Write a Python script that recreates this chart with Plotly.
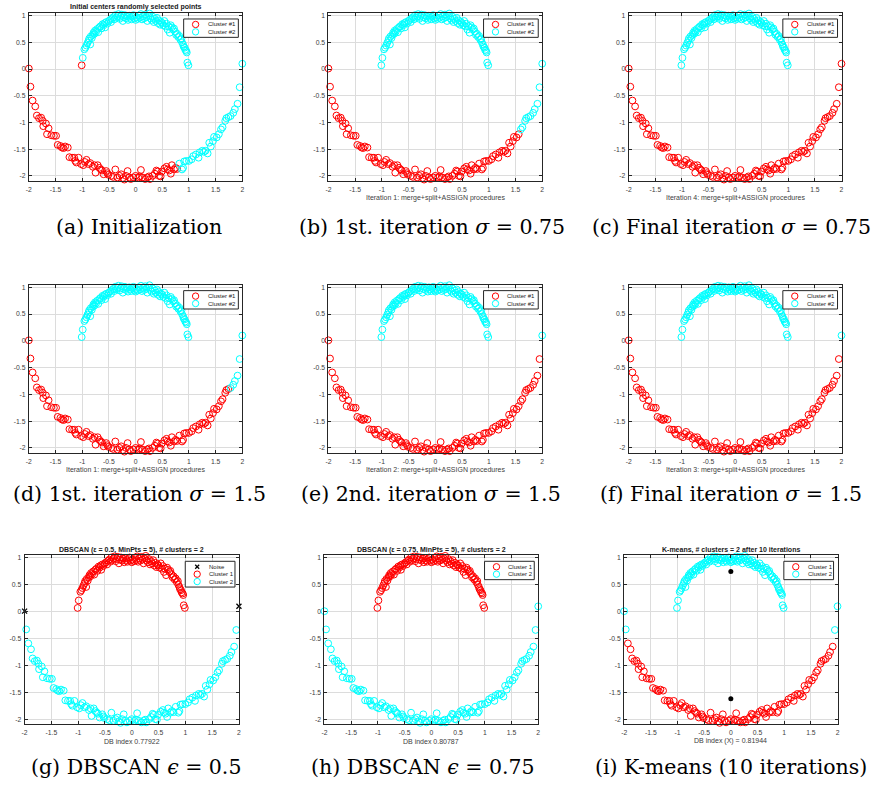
import plotly.graph_objects as go

FIG_W, FIG_H = 879, 787

# ---------------- data ----------------
# upper (inner) arc
UPPER_X = [-1.01, -0.99, -0.96, -0.94, -0.92, -0.90, -0.88, -0.87, -0.85, -0.84,
           -0.82, -0.80, -0.79, -0.77, -0.76, -0.74, -0.72, -0.70, -0.68, -0.66,
           -0.64, -0.62, -0.60, -0.58, -0.57, -0.55, -0.53, -0.50, -0.48, -0.46,
           -0.44, -0.42, -0.40, -0.38, -0.36, -0.34, -0.32, -0.30, -0.28, -0.26,
           -0.24, -0.22, -0.20, -0.18, -0.16, -0.14, -0.12, -0.10, -0.08, -0.06,
           -0.04, -0.02, 0.00, 0.02, 0.04, 0.06, 0.08, 0.10, 0.12, 0.14,
           0.16, 0.18, 0.20, 0.22, 0.24, 0.26, 0.28, 0.30, 0.32, 0.34,
           0.36, 0.38, 0.40, 0.42, 0.44, 0.46, 0.48, 0.50, 0.52, 0.54,
           0.56, 0.58, 0.60, 0.62, 0.64, 0.66, 0.68, 0.70, 0.72, 0.74,
           0.76, 0.78, 0.80, 0.82, 0.84, 0.86, 0.87, 0.89, 0.90, 0.92,
           0.93, 0.95, 0.96, 0.97, 0.99]
UPPER_Y = [0.07, 0.21, 0.37, 0.40, 0.44, 0.49, 0.53, 0.57, 0.46, 0.61,
           0.58, 0.64, 0.68, 0.66, 0.72, 0.70, 0.75, 0.69, 0.78, 0.80,
           0.76, 0.84, 0.82, 0.86, 0.78, 0.88, 0.85, 0.90, 0.92, 0.88,
           0.95, 0.97, 0.93, 1.01, 0.96, 0.99, 1.03, 0.94, 0.98, 1.02,
           0.90, 0.97, 1.01, 0.95, 0.99, 0.92, 1.00, 0.96, 0.93, 0.98,
           1.01, 0.95, 0.92, 0.97, 0.94, 1.00, 0.96, 1.03, 0.93, 0.99,
           0.95, 1.02, 0.97, 0.90, 0.99, 1.04, 0.95, 0.92, 0.98, 0.88,
           0.94, 0.90, 0.96, 0.86, 0.91, 0.83, 0.88, 0.86, 0.82, 0.90,
           0.80, 0.85, 0.74, 0.80, 0.68, 0.82, 0.78, 0.74, 0.76, 0.70,
           0.64, 0.66, 0.60, 0.62, 0.55, 0.57, 0.50, 0.46, 0.42, 0.40,
           0.36, 0.34, 0.31, 0.12, 0.07]

# lower (outer) arc
LOWER_X = [-2.00, -1.97, -1.93, -1.88, -1.85, -1.81, -1.77, -1.74, -1.73, -1.68,
           -1.66, -1.63, -1.58, -1.53, -1.49, -1.46, -1.41, -1.38, -1.35, -1.32,
           -1.27, -1.24, -1.19, -1.15, -1.13, -1.11, -1.07, -1.02, -0.98, -0.95,
           -0.92, -0.88, -0.85, -0.80, -0.77, -0.75, -0.71, -0.68, -0.65, -0.63,
           -0.60, -0.55, -0.53, -0.51, -0.46, -0.42, -0.38, -0.34, -0.30, -0.27,
           -0.24, -0.21, -0.18, -0.15, -0.12, -0.09, -0.04, 0.00, 0.05, 0.08,
           0.10, 0.13, 0.18, 0.22, 0.25, 0.27, 0.32, 0.36, 0.39, 0.41,
           0.44, 0.47, 0.49, 0.54, 0.58, 0.60, 0.63, 0.66, 0.68, 0.72,
           0.75, 0.78, 0.82, 0.87, 0.89, 0.91, 0.95, 1.00, 1.05, 1.08,
           1.13, 1.18, 1.20, 1.25, 1.28, 1.31, 1.35, 1.38, 1.41, 1.45,
           1.47, 1.52, 1.56, 1.60, 1.63, 1.68, 1.70, 1.74, 1.78, 1.83,
           1.86, 1.91, 1.95, 2.00]
LOWER_Y = [0.01, -0.33, -0.59, -0.70, -0.87, -0.92, -0.91, -0.97, -1.07, -1.02,
           -1.22, -1.11, -1.24, -1.25, -1.25, -1.42, -1.44, -1.47, -1.48, -1.45,
           -1.47, -1.65, -1.66, -1.66, -1.72, -1.75, -1.66, -1.78, -1.80, -1.74,
           -1.70, -1.78, -1.76, -1.83, -1.80, -1.94, -1.80, -1.85, -1.88, -1.90,
           -1.97, -1.91, -1.95, -1.98, -2.00, -2.02, -1.88, -2.03, -2.00, -1.97,
           -2.04, -2.07, -2.00, -1.91, -2.03, -2.06, -2.03, -2.00, -2.03, -2.01,
           -1.89, -2.03, -2.06, -2.03, -2.01, -2.06, -2.00, -1.96, -1.90, -1.92,
           -2.00, -2.01, -1.92, -1.86, -1.83, -1.88, -1.90, -1.96, -1.80, -1.88,
           -1.85, -1.87, -1.77, -1.88, -1.85, -1.73, -1.72, -1.72, -1.69, -1.63,
           -1.60, -1.66, -1.56, -1.53, -1.55, -1.53, -1.58, -1.38, -1.45, -1.35,
           -1.27, -1.28, -1.22, -1.13, -1.09, -0.97, -0.92, -0.90, -0.88, -0.82,
           -0.75, -0.65, -0.34, 0.10]

# x positions on the lower arc from which points belong to cluster #2 (cyan), panels a-f
LOWER_CYAN_FROM_X = [0.80, 1.60, 9.0, 1.76, 1.98, 1.98, None, None, None]

KMEANS_CENTER_X = [0.0, 0.0]
KMEANS_CENTER_Y = [0.75, -1.62]

X_TICK_VALUES = [-2, -1.5, -1, -0.5, 0, 0.5, 1, 1.5, 2]
X_TICK_LABELS = ['-2', '-1.5', '-1', '-0.5', '0', '0.5', '1', '1.5', '2']
Y_TICK_VALUES = [-2, -1.5, -1, -0.5, 0, 0.5, 1]
Y_TICK_LABELS = ['-2', '-1.5', '-1', '-0.5', '0', '0.5', '1']

PANEL_TITLES = ['Initial centers randomly selected points', '', '', '', '', '',
                'DBSCAN (ε = 0.5, MinPts = 5), # clusters = 2',
                'DBSCAN (ε = 0.75, MinPts = 5), # clusters = 2',
                'K-means, # clusters = 2 after 10 iterations']
PANEL_XLABELS = ['',
                 'Iteration 1: merge+split+ASSIGN procedures',
                 'Iteration 4: merge+split+ASSIGN procedures',
                 'Iteration 1: merge+split+ASSIGN procedures',
                 'Iteration 2: merge+split+ASSIGN procedures',
                 'Iteration 3: merge+split+ASSIGN procedures',
                 'DB index 0.77922', 'DB index 0.80787', 'DB index (X) = 0.81944']
CAPTIONS = ['(a) Initialization',
            '(b) 1st. iteration <i>σ</i> = 0.75',
            '(c) Final iteration <i>σ</i> = 0.75',
            '(d) 1st. iteration <i>σ</i> = 1.5',
            '(e) 2nd. iteration <i>σ</i> = 1.5',
            '(f) Final iteration <i>σ</i> = 1.5',
            '(g) DBSCAN <i>ϵ</i> = 0.5',
            '(h) DBSCAN <i>ϵ</i> = 0.75',
            '(i) K-means (10 iterations)']
LEGEND_LABELS = [['Cluster #1', 'Cluster #2']] * 6 + [['Noise', 'Cluster 1', 'Cluster 2'],
                                                      ['Cluster 1', 'Cluster 2'],
                                                      ['Cluster 1', 'Cluster 2']]

RED = '#FF0000'
CYAN = '#00FFFF'
AXC = '#262626'
GRID = '#dcdcdc'
SANS = 'Liberation Sans, Arial'
SERIF = 'DejaVu Serif, Liberation Serif'

# ---------------- layout geometry (window pixels) ----------------
AX_BOX = [(26, 240.7, 12, 180), (327.3, 542.3, 12, 180), (629.3, 843.3, 12, 180),
          (26, 240.7, 284, 452.4), (327.3, 542.3, 284, 452.4), (629.3, 843.3, 284, 452.4),
          (21.7, 237.3, 555, 724), (323.3, 538.3, 555, 724), (624.7, 839.3, 555, 724)]
CAPTION_POS = [(137, 226.5), (431, 226.5), (733, 226.5),
               (137, 493.5), (430, 493.5), (732, 493.5),
               (134, 767), (422, 767), (732, 767)]
X_RANGE = [-2.0, 2.0]
Y_RANGE = [-2.092, 1.05]


def px(x):
    return x / FIG_W


def py(y):
    return 1 - y / FIG_H


def memberships(i):
    red_u, cyan_u, red_l, cyan_l, noise_l = [], [], [], [], []
    nU, nL = len(UPPER_X), len(LOWER_X)
    if i < 6:
        cyan_u = list(range(nU))
        if i == 0:
            cyan_u = list(range(1, nU))
            red_u = [0]
        th = LOWER_CYAN_FROM_X[i]
        for k in range(nL):
            (cyan_l if LOWER_X[k] >= th else red_l).append(k)
    elif i == 6:
        red_u = list(range(nU))
        noise_l = [0, nL - 1]
        cyan_l = list(range(1, nL - 1))
    elif i == 7:
        red_u = list(range(nU))
        cyan_l = list(range(nL))
    else:
        cyan_u = list(range(nU))
        cyan_l = [0, 1, nL - 2, nL - 1]
        red_l = list(range(2, nL - 2))
    return red_u, cyan_u, red_l, cyan_l, noise_l


fig = go.Figure()
shapes = []
annotations = []

for i in range(9):
    sfx = '' if i == 0 else str(i + 1)
    xa, ya = 'x' + sfx, 'y' + sfx
    red_u, cyan_u, red_l, cyan_l, noise_l = memberships(i)

    if noise_l:
        fig.add_trace(go.Scatter(
            x=[LOWER_X[k] for k in noise_l], y=[LOWER_Y[k] for k in noise_l],
            mode='markers', xaxis=xa, yaxis=ya, cliponaxis=False,
            marker=dict(symbol='x-thin-open', size=5, color='black',
                        line=dict(color='black', width=1.3))))
    fig.add_trace(go.Scatter(
        x=[UPPER_X[k] for k in red_u] + [LOWER_X[k] for k in red_l],
        y=[UPPER_Y[k] for k in red_u] + [LOWER_Y[k] for k in red_l],
        mode='markers', xaxis=xa, yaxis=ya, cliponaxis=False,
        marker=dict(symbol='circle-open', size=6.8, color=RED, line=dict(color=RED, width=1))))
    fig.add_trace(go.Scatter(
        x=[UPPER_X[k] for k in cyan_u] + [LOWER_X[k] for k in cyan_l],
        y=[UPPER_Y[k] for k in cyan_u] + [LOWER_Y[k] for k in cyan_l],
        mode='markers', xaxis=xa, yaxis=ya, cliponaxis=False,
        marker=dict(symbol='circle-open', size=6.8, color=CYAN, line=dict(color=CYAN, width=1))))
    if i == 8:
        fig.add_trace(go.Scatter(
            x=KMEANS_CENTER_X, y=KMEANS_CENTER_Y, mode='markers', xaxis=xa, yaxis=ya,
            marker=dict(symbol='circle', size=5, color='black')))

    l, r, t, b = AX_BOX[i]
    axis_common = dict(showline=True, linecolor=AXC, linewidth=1, mirror='ticks',
                       ticks='inside', ticklen=3, tickcolor=AXC, tickwidth=0.8,
                       showgrid=True, gridcolor=GRID, gridwidth=1, zeroline=False,
                       tickfont=dict(family=SANS, size=6.8, color='#404040'),
                       fixedrange=True)
    fig.update_layout(**{
        'xaxis' + sfx: dict(domain=[px(l), px(r)], range=X_RANGE, anchor=ya,
                            tickvals=X_TICK_VALUES, ticktext=X_TICK_LABELS,
                            ticklabelstandoff=2, **axis_common),
        'yaxis' + sfx: dict(domain=[py(b), py(t)], range=Y_RANGE, anchor=xa,
                            tickvals=Y_TICK_VALUES, ticktext=Y_TICK_LABELS,
                            ticklabelstandoff=1, **axis_common),
    })

    cx = (l + r) / 2
    if PANEL_TITLES[i]:
        annotations.append(dict(x=px(cx), y=py(t - 5.5), xref='paper', yref='paper',
                                text='<b>' + PANEL_TITLES[i] + '</b>', showarrow=False,
                                xanchor='center', yanchor='middle',
                                font=dict(family=SANS, size=7, color='#202020')))
    if PANEL_XLABELS[i]:
        annotations.append(dict(x=px(cx), y=py(b + 17), xref='paper', yref='paper',
                                text=PANEL_XLABELS[i], showarrow=False,
                                xanchor='center', yanchor='middle',
                                font=dict(family=SANS, size=7, color='#404040')))
    capx, capy = CAPTION_POS[i]
    annotations.append(dict(x=px(capx), y=py(capy), xref='paper', yref='paper',
                            text=CAPTIONS[i], showarrow=False, xanchor='center', yanchor='middle',
                            font=dict(family=SERIF, size=20.5, color='black')))

    # legend box (drawn as decoration)
    labels = LEGEND_LABELS[i]
    n = len(labels)
    w = 55 if '#' in labels[0] else 50
    h = 11 + 7.4 * (n - 1)
    x1 = r - 4
    x0 = x1 - w
    y0 = t + 6
    y1 = y0 + h
    shapes.append(dict(type='rect', xref='paper', yref='paper', x0=px(x0), x1=px(x1),
                       y0=py(y1), y1=py(y0), fillcolor='white', line=dict(color=AXC, width=1)))
    kinds = ['noise', RED, CYAN] if n == 3 else [RED, CYAN]
    for k, (lab, kind) in enumerate(zip(labels, kinds)):
        cyy = y0 + 5.5 + 7.4 * k
        mx = x0 + 12
        if kind == 'noise':
            for (a0, a1) in [((-2, -2), (2, 2)), ((-2, 2), (2, -2))]:
                shapes.append(dict(type='line', xref='paper', yref='paper',
                                   x0=px(mx + a0[0]), y0=py(cyy + a0[1]),
                                   x1=px(mx + a1[0]), y1=py(cyy + a1[1]),
                                   line=dict(color='black', width=1.2)))
        else:
            shapes.append(dict(type='circle', xref='paper', yref='paper',
                               x0=px(mx - 3.2), x1=px(mx + 3.2), y0=py(cyy + 3.2), y1=py(cyy - 3.2),
                               line=dict(color=kind, width=1)))
        annotations.append(dict(x=px(x0 + 22), y=py(cyy), xref='paper', yref='paper',
                                text=lab, showarrow=False, xanchor='left', yanchor='middle',
                                font=dict(family=SANS, size=6, color='#202020')))

fig.update_layout(width=FIG_W, height=FIG_H, margin=dict(l=0, r=0, t=0, b=0),
                  paper_bgcolor='white', plot_bgcolor='white', showlegend=False,
                  shapes=shapes, annotations=annotations)

# let the figure start at the very top-left corner of the page; no mode bar
fig.write_html('out.html', config={'displayModeBar': False},
               post_script="document.body.style.margin='0';")
